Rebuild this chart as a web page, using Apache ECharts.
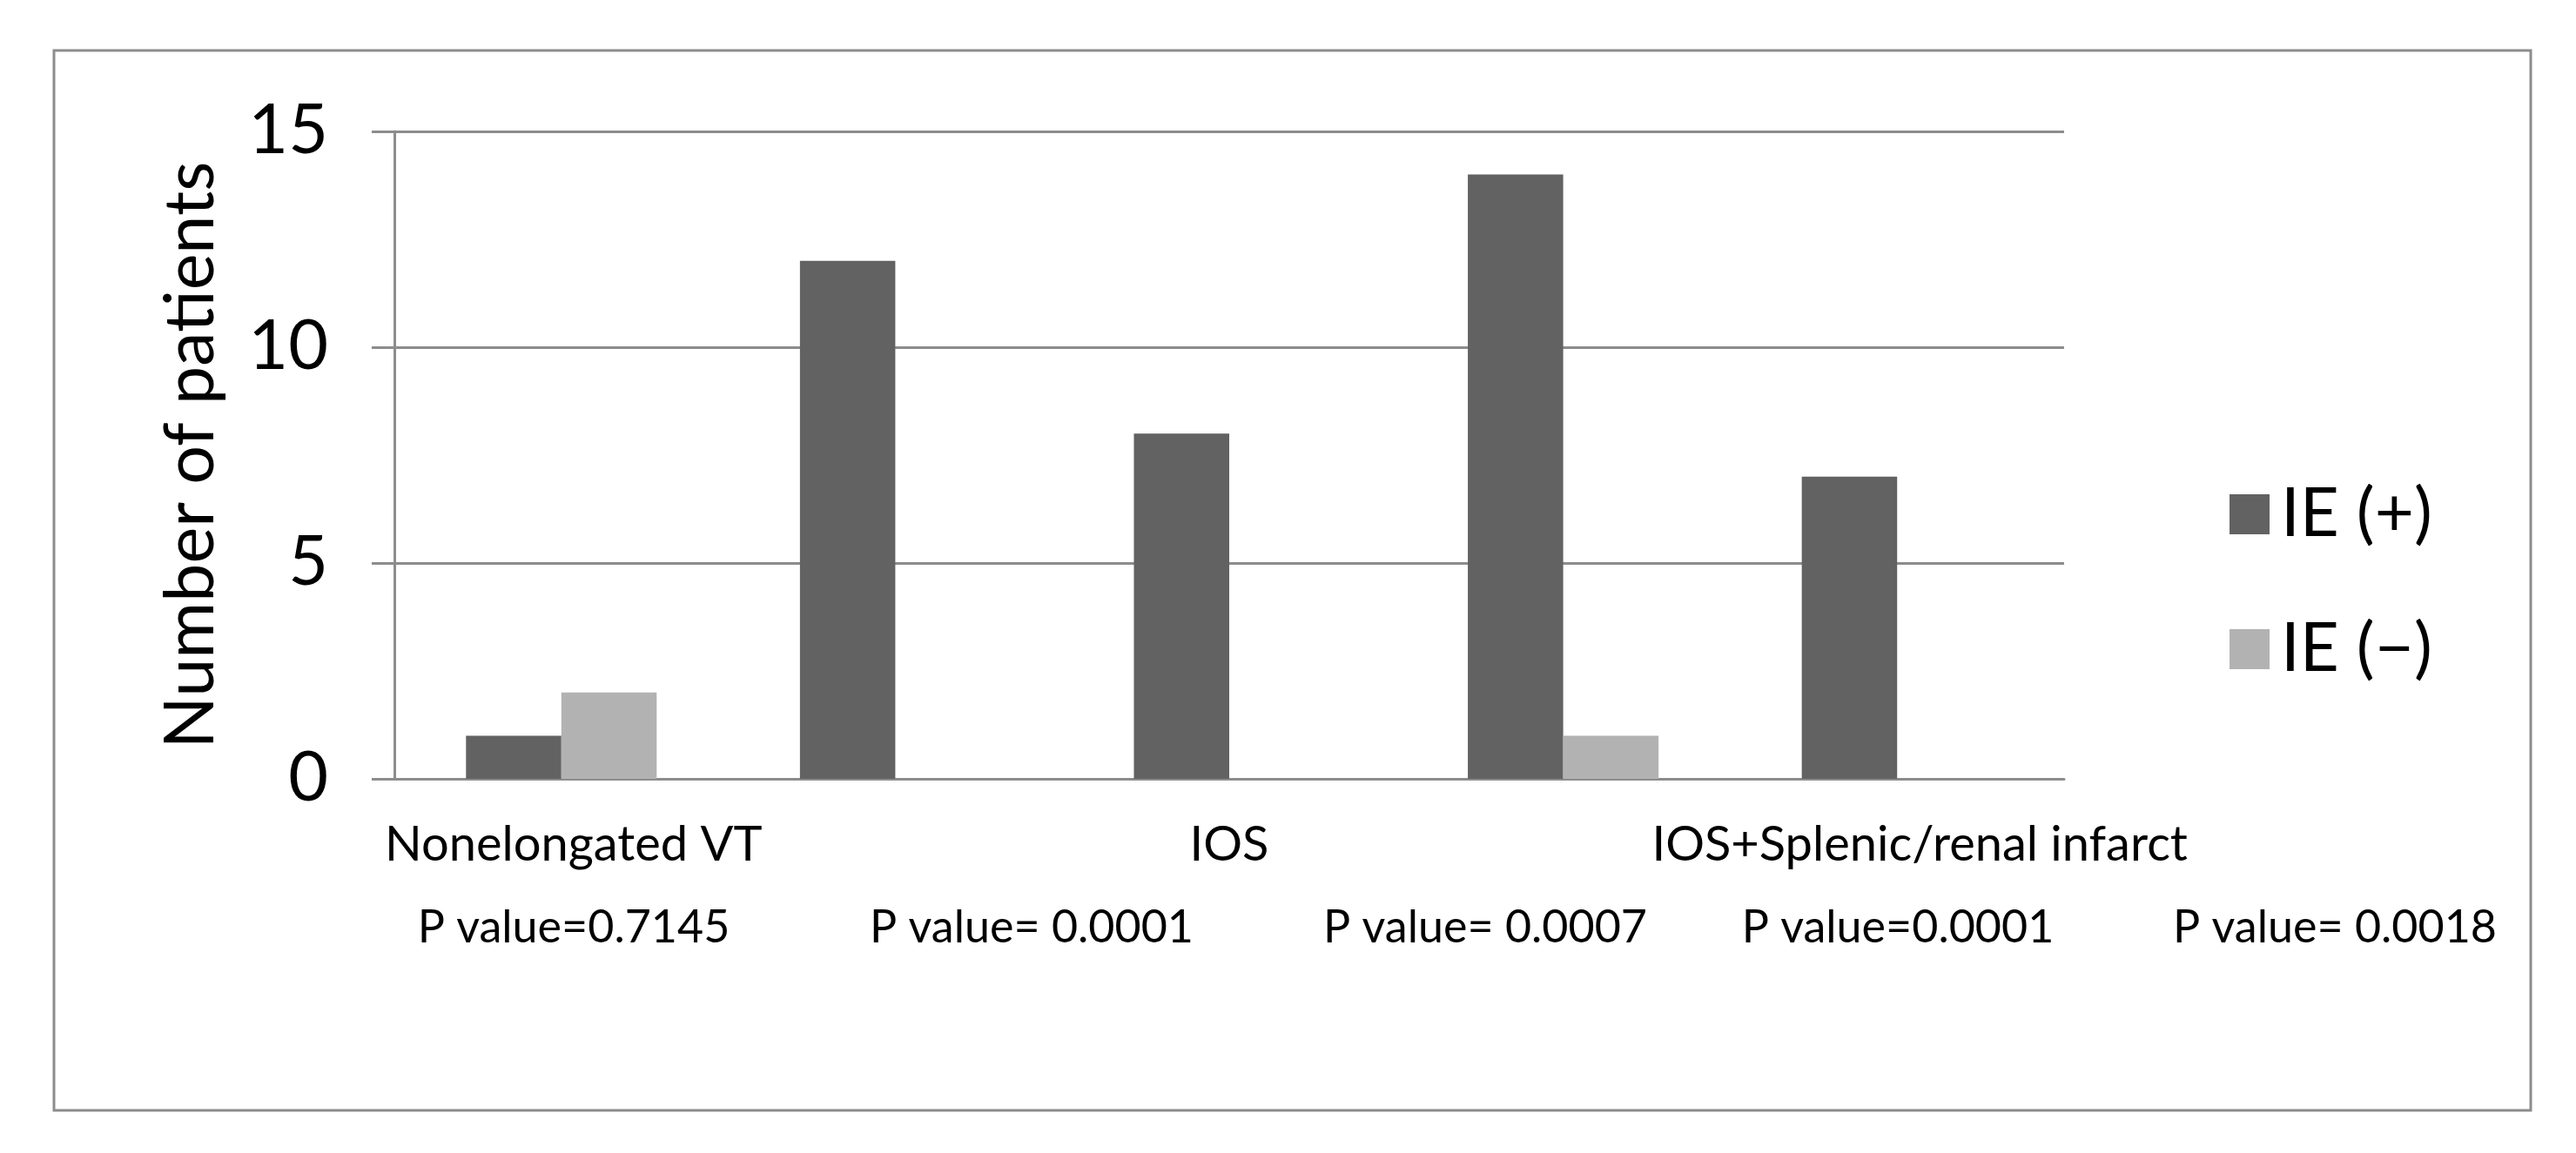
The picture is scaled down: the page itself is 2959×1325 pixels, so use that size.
<!DOCTYPE html>
<html>
<head>
<meta charset="utf-8">
<script src="https://cdn.jsdelivr.net/npm/echarts@6/dist/echarts.min.js"></script>
<style>html,body{margin:0;padding:0;background:#fff}#c{width:2959px;height:1325px}</style>
</head>
<body>
<div id="c"></div>
<script>
// ---- data ----
const categories = ['Nonelongated VT', '', 'IOS', ' ', 'IOS+Splenic/renal infarct'];
const ieplus = [1, 12, 8, 14, 7];
const ieminus = [2, 0, 0, 1, 0];
const seriesNames = ['IE (+)', 'IE (\u2212)'];
const pValues = ['P value=0.7145', 'P value= 0.0001', 'P value= 0.0007', 'P value=0.0001', 'P value= 0.0018'];
const yTicks = [0, 5, 10, 15];

// ---- layout ----
const FONT = 'Lato';
const pCenters = [659, 1185, 1706, 2180, 2682];
const labelShift = [28, 0, 0, 0, 52];
const gridColor = '#8c8c8c';

const chart = echarts.init(document.getElementById('c'), null, {renderer: 'canvas'});
chart.setOption({
  backgroundColor: '#ffffff',
  animation: false,
  textStyle: {fontFamily: FONT, color: '#000'},
  grid: {left: 453, right: 588, top: 151, bottom: 430, containLabel: false},
  legend: {
    orient: 'vertical', left: 2556, top: 547,
    itemWidth: 46, itemHeight: 46, itemGap: 77,
    icon: 'rect',
    data: seriesNames,
    textStyle: {fontFamily: FONT, fontSize: 78, lineHeight: 46, color: '#000', padding: [0, 0, 0, 8]}
  },
  xAxis: {
    type: 'category',
    data: categories.map((c, i) => ({value: c, textStyle: {padding: [0, 0, 0, labelShift[i]]}})),
    axisLine: {show: true, lineStyle: {color: gridColor, width: 3}},
    axisTick: {show: false},
    axisLabel: {interval: 0, fontFamily: FONT, fontSize: 56, color: '#000', margin: 48}
  },
  yAxis: {
    type: 'value', min: yTicks[0], max: yTicks[yTicks.length - 1], interval: 5,
    name: 'Number of patients', nameLocation: 'middle', nameGap: 183,
    nameTextStyle: {fontFamily: FONT, fontSize: 79, lineHeight: 100, color: '#000'},
    axisLine: {show: true, lineStyle: {color: gridColor, width: 3}},
    axisTick: {show: true, length: 26, lineStyle: {color: gridColor, width: 3}},
    axisLabel: {fontFamily: FONT, fontSize: 79, color: '#000', margin: 76},
    splitLine: {show: true, lineStyle: {color: gridColor, width: 3}}
  },
  series: [
    {name: seriesNames[0], type: 'bar', data: ieplus, barGap: '0%', barCategoryGap: '42.9%', itemStyle: {color: '#626262'}},
    {name: seriesNames[1], type: 'bar', data: ieminus, barGap: '0%', barCategoryGap: '42.9%', itemStyle: {color: '#b2b2b2'}}
  ],
  graphic: [
    {type: 'rect', shape: {x: 62, y: 58, width: 2845, height: 1218}, style: {fill: 'none', stroke: gridColor, lineWidth: 3}, silent: true}
  ].concat(pValues.map((t, i) => ({
    type: 'text', x: pCenters[i], y: 1066,
    style: {text: t, fontFamily: FONT, fontSize: 52, fill: '#000', textAlign: 'center', textVerticalAlign: 'middle'}
  })))
});
</script>
</body>
</html>
